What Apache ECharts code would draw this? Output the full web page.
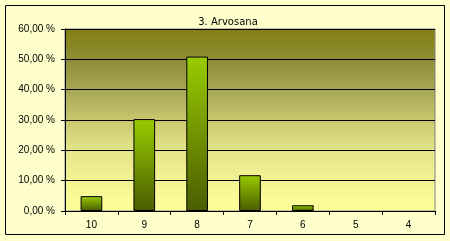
<!DOCTYPE html>
<html><head><meta charset="utf-8">
<script src="https://cdn.jsdelivr.net/npm/echarts@6/dist/echarts.min.js"></script>
<style>html,body{margin:0;padding:0;background:#FFFFCC}#c{width:450px;height:241px}</style>
</head><body><div id="c"></div>
<script>
const titleText = '3. Arvosana';
const categories = ['10', '9', '8', '7', '6', '5', '4'];
const values = [4.9, 30.3, 50.9, 11.8, 1.9, 0, 0];
const yTicks = [0, 10, 20, 30, 40, 50, 60];

const chart = echarts.init(document.getElementById('c'), null, {renderer: 'canvas'});
chart.setOption({
  backgroundColor: '#FFFFCC',
  animation: false,
  title: {
    text: titleText, left: 223, top: 12, textAlign: 'center',
    textStyle: {fontFamily: 'DejaVu Sans', fontSize: 10, fontWeight: 'normal', color: '#000'}
  },
  graphic: [{
    type: 'rect', shape: {x: 5.5, y: 5.5, width: 439, height: 229},
    style: {fill: null, stroke: '#000', lineWidth: 1}, silent: true, z: 100
  }],
  grid: {
    left: 65, right: 15, top: 29, bottom: 30, containLabel: false, outerBoundsMode: 'none',
    show: true, borderColor: '#808080', borderWidth: 1,
    backgroundColor: new echarts.graphic.LinearGradient(0, 0, 0, 1, [
      {offset: 0, color: '#828010'},
      {offset: 0.18, color: '#8f8e38'},
      {offset: 0.35, color: '#aaa957'},
      {offset: 0.52, color: '#cccb72'},
      {offset: 0.68, color: '#e6e68a'},
      {offset: 0.84, color: '#f4f494'},
      {offset: 1, color: '#ffff99'}
    ])
  },
  xAxis: {
    type: 'category', data: categories,
    axisLine: {lineStyle: {color: '#000', width: 1}},
    axisTick: {show: true, alignWithLabel: false, length: 4, lineStyle: {color: '#000'}},
    axisLabel: {color: '#000', fontFamily: 'Liberation Sans', fontSize: 10, margin: 9}
  },
  yAxis: {
    type: 'value', min: yTicks[0], max: yTicks[yTicks.length - 1], interval: 10,
    axisLine: {show: true, lineStyle: {color: '#000', width: 1}},
    axisTick: {show: true, length: 4, lineStyle: {color: '#000'}},
    splitLine: {show: true, lineStyle: {color: '#000', width: 1}},
    axisLabel: {color: '#000', fontFamily: 'Liberation Sans', fontSize: 10, margin: 10,
      formatter: v => v.toFixed(2).replace('.', ',') + ' %'}
  },
  series: [{
    type: 'bar', barWidth: '41%',
    data: values.map(v => v === 0 ? {value: v, itemStyle: {borderWidth: 0}} : v),
    itemStyle: {
      borderColor: '#000', borderWidth: 1,
      color: new echarts.graphic.LinearGradient(0, 0, 0, 1, [
        {offset: 0, color: '#99cc00'},
        {offset: 1, color: '#4a5c00'}
      ])
    }
  }]
});
</script></body></html>
